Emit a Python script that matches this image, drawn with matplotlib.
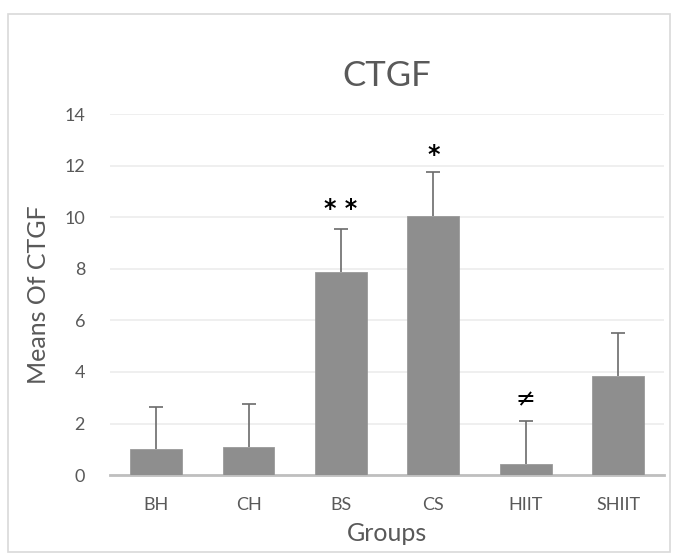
import numpy as np
import matplotlib
matplotlib.use("Agg")
import matplotlib.pyplot as plt
from matplotlib.patches import Rectangle

plt.rcParams['font.family'] = ['Lato', 'DejaVu Sans']

# data
groups = ['BH', 'CH', 'BS', 'CS', 'HIIT', 'SHIIT']
means = [1.0, 1.08, 7.87, 10.04, 0.43, 3.84]
errs = [1.64, 1.67, 1.66, 1.70, 1.66, 1.66]
marks = ['', '', '* *', '*', '≠', '']
mark_y = [0, 0, 10.3, 12.4, 2.95, 0]

fig = plt.figure(figsize=(6.75, 5.59), dpi=100)
ax = fig.add_axes([0.163, 0.150, 0.821, 0.646])

x = np.arange(len(groups))
ax.bar(x, means, width=0.56, color='#8e8e8e', edgecolor='#9a9a9a', linewidth=0.6, zorder=3)
eb = ax.errorbar(x, means, yerr=[np.zeros(len(errs)), errs], fmt='none',
                 ecolor='#6b6b6b', elinewidth=1.2, capsize=5, capthick=1.2, zorder=4)
eb[1][0].set_visible(False)  # no lower cap

for xi, m, my in zip(x, marks, mark_y):
    if m:
        ax.text(xi, my, m, ha='center', va='center', fontsize=17,
                family=['DejaVu Sans'], fontweight='bold' if '*' in m else 'normal',
                color='black')

ax.set_xlim(-0.5, len(groups) - 0.5)
ax.set_ylim(0, 14)
ax.set_yticks(np.arange(0, 15, 2))
ax.set_xticks(x)
ax.set_xticklabels(groups)
ax.yaxis.grid(True, color='#ececec', linewidth=1.2, zorder=0)
ax.set_axisbelow(True)
for s in ['top', 'right', 'left']:
    ax.spines[s].set_visible(False)
ax.spines['bottom'].set_color('#bfbfbf')
ax.spines['bottom'].set_linewidth(2)
ax.tick_params(axis='x', length=0, labelsize=13, labelcolor='#595959', pad=16)
ax.tick_params(axis='y', length=0, labelsize=13, labelcolor='#595959', pad=18)

ax.set_title('CTGF', fontsize=25, color='#595959', pad=20)
ax.set_xlabel('Groups', fontsize=18, color='#595959', labelpad=6)
ax.set_ylabel('Means Of CTGF', fontsize=18, color='#595959', labelpad=10)

# outer chart border
fig.patches.append(Rectangle((8 / 675, 1 - 552 / 559), 662 / 675, 538 / 559,
                             transform=fig.transFigure, fill=False,
                             edgecolor='#d9d9d9', linewidth=1.2))

fig.savefig('out.png', dpi=100)
